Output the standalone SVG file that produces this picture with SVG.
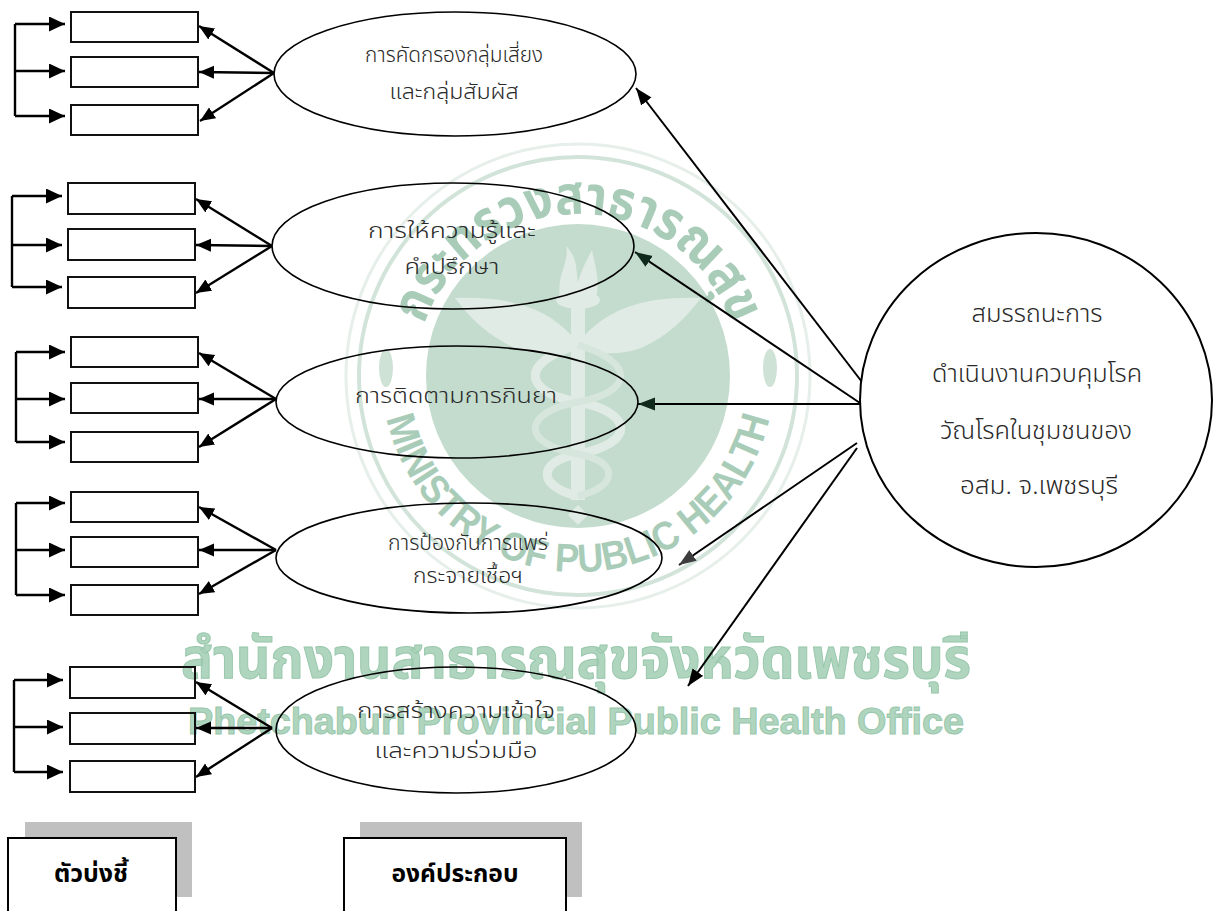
<svg xmlns="http://www.w3.org/2000/svg" width="1213" height="911" viewBox="0 0 1213 911">
<style>
.box{fill:none;stroke:#111;stroke-width:2}
.ell{fill:none;stroke:#000;stroke-width:1.6}
.br{fill:none;stroke:#000;stroke-width:2.4}
.ea{fill:none;stroke:#000;stroke-width:2.4}
.ra{fill:none;stroke:#000;stroke-width:2}
.th{font-family:'Noto Sans Thai','Noto Sans Thai UI','Noto Sans','DejaVu Sans',sans-serif;font-size:21px;font-weight:300;fill:#2a2a2a;text-anchor:middle}
.ct{font-family:'Noto Sans Thai','Noto Sans Thai UI','Noto Sans','DejaVu Sans',sans-serif;font-size:25px;font-weight:300;fill:#2a2a2a;text-anchor:middle}
.lb{font-family:'Noto Sans Thai','Noto Sans Thai UI','Noto Sans','DejaVu Sans',sans-serif;font-size:24px;font-weight:bold;fill:#000;text-anchor:middle}
.wm{fill:#a9ccb8}
.wmt{font-family:'Noto Sans Thai','Noto Sans Thai UI','Noto Sans','DejaVu Sans',sans-serif;font-weight:bold;fill:#b0d5bf;stroke:#98c7ab;stroke-width:1;text-anchor:middle}
.wme{font-family:'Liberation Sans','Arial',sans-serif;font-weight:bold;fill:#b0d5bf;stroke:#98c7ab;stroke-width:1;text-anchor:middle}
.shadow{fill:#c0c0c0}
.lab{fill:#fff;stroke:#000;stroke-width:2}
</style>
<defs>
<marker id="ah" markerUnits="userSpaceOnUse" markerWidth="17" markerHeight="16" refX="16" refY="7.5" orient="auto"><path d="M0,0 L16,7.5 L0,15 z" fill="#000"/></marker>
<marker id="ah2" markerUnits="userSpaceOnUse" markerWidth="16" markerHeight="14" refX="15" refY="6.5" orient="auto"><path d="M0,0 L15,6.5 L0,13 z" fill="#000"/></marker>
<marker id="ah3" markerUnits="userSpaceOnUse" markerWidth="18" markerHeight="14" refX="17" refY="6.5" orient="auto"><path d="M0,0 L17,6.5 L0,13 z" fill="#000"/></marker>
<marker id="ah3g" markerUnits="userSpaceOnUse" markerWidth="18" markerHeight="14" refX="17" refY="6.5" orient="auto"><path d="M0,0 L17,6.5 L0,13 z" fill="#0f2a1d"/></marker>
<marker id="ah3d" markerUnits="userSpaceOnUse" markerWidth="18" markerHeight="14" refX="17" refY="6.5" orient="auto"><path d="M0,0 L17,6.5 L0,13 z" fill="#3d3d3d"/></marker>
<path id="arcTop" d="M416,376 A162,162 0 0 1 740,376"/>
<path id="arcBot" d="M382,376 A196,196 0 0 0 774,376"/>
</defs>

<g id="watermark">
<circle cx="578" cy="376" r="232" fill="none" stroke="#e6efe9" stroke-width="3"/>
<circle cx="578" cy="376" r="219" fill="none" stroke="#d2e4d9" stroke-width="4"/>
<circle cx="578" cy="376" r="152" fill="#c4dcce"/>
<text class="wm" style="font-family:'Noto Sans Thai','Noto Sans','DejaVu Sans',sans-serif;font-weight:bold;font-size:54px;text-anchor:middle"><textPath href="#arcTop" startOffset="50%" textLength="404" lengthAdjust="spacingAndGlyphs">กระทรวงสาธารณสุข</textPath></text>
<text class="wm" style="font-family:'Liberation Sans',Arial,sans-serif;font-weight:bold;font-size:40px;text-anchor:middle"><textPath href="#arcBot" startOffset="50%" textLength="530" lengthAdjust="spacingAndGlyphs">MINISTRY OF PUBLIC HEALTH</textPath></text>
<g fill="#dfebe4">
<rect x="571" y="300" width="14" height="200"/>
<ellipse cx="578" cy="300" rx="22" ry="9"/>
<path d="M560,298 C556,275 570,262 566,246 C578,258 576,270 578,282 C582,268 588,258 592,250 C596,268 600,282 596,298 Z"/>
<path d="M572,336 C545,306 505,296 455,298 C470,318 488,336 515,348 C538,356 558,354 572,348 Z"/>
<path d="M584,336 C611,306 651,296 701,298 C686,318 668,336 641,348 C618,356 598,354 584,348 Z"/>
<path d="M578,505 l-10,10 l10,10 l10,-10 Z"/>
</g>
<path d="M578,345 C520,362 522,392 578,402 C634,412 636,444 578,454 C534,462 540,488 578,496" fill="none" stroke="#dfebe4" stroke-width="9"/>
<path d="M578,345 C636,362 634,392 578,402 C522,412 520,444 578,454 C622,462 616,488 578,496" fill="none" stroke="#d6e6dc" stroke-width="7"/>
<ellipse cx="386" cy="368" rx="7" ry="19" fill="#cfe2d6"/>
<ellipse cx="770" cy="368" rx="7" ry="19" fill="#cfe2d6"/>
<text class="wmt" x="576" y="678" font-size="56" textLength="790" lengthAdjust="spacingAndGlyphs">สำนักงานสาธารณสุขจังหวัดเพชรบุรี</text>
<text class="wme" x="576" y="734" font-size="37" textLength="776" lengthAdjust="spacingAndGlyphs">Phetchaburi Provincial Public Health Office</text>
</g>

<g id="connectors">
<path class="br" d="M15,24 V116"/>
<path class="br" d="M15,24 H65" marker-end="url(#ah)"/>
<path class="br" d="M15,71 H65" marker-end="url(#ah)"/>
<path class="br" d="M15,116 H65" marker-end="url(#ah)"/>
<path class="br" d="M12,196 V287"/>
<path class="br" d="M12,196 H62" marker-end="url(#ah)"/>
<path class="br" d="M12,245 H62" marker-end="url(#ah)"/>
<path class="br" d="M12,287 H62" marker-end="url(#ah)"/>
<path class="br" d="M16,352 V442"/>
<path class="br" d="M16,352 H65" marker-end="url(#ah)"/>
<path class="br" d="M16,399 H65" marker-end="url(#ah)"/>
<path class="br" d="M16,442 H65" marker-end="url(#ah)"/>
<path class="br" d="M16,503 V595"/>
<path class="br" d="M16,503 H65" marker-end="url(#ah)"/>
<path class="br" d="M16,550 H65" marker-end="url(#ah)"/>
<path class="br" d="M16,595 H65" marker-end="url(#ah)"/>
<path class="br" d="M14,680 V772"/>
<path class="br" d="M14,680 H63" marker-end="url(#ah)"/>
<path class="br" d="M14,727 H63" marker-end="url(#ah)"/>
<path class="br" d="M14,772 H63" marker-end="url(#ah)"/>

<path class="ea" d="M274,73 L199,26" marker-end="url(#ah2)"/>
<path class="ea" d="M274,73 L199,72" marker-end="url(#ah2)"/>
<path class="ea" d="M274,73 L200,121" marker-end="url(#ah2)"/>
<path class="ea" d="M272,246 L196,199" marker-end="url(#ah2)"/>
<path class="ea" d="M272,246 L196,245" marker-end="url(#ah2)"/>
<path class="ea" d="M272,246 L196,293" marker-end="url(#ah2)"/>
<path class="ea" d="M276,399 L199,353" marker-end="url(#ah2)"/>
<path class="ea" d="M276,399 L199,399" marker-end="url(#ah2)"/>
<path class="ea" d="M276,399 L199,447" marker-end="url(#ah2)"/>
<path class="ea" d="M276,550 L199,507" marker-end="url(#ah2)"/>
<path class="ea" d="M276,550 L199,550" marker-end="url(#ah2)"/>
<path class="ea" d="M276,550 L199,594" marker-end="url(#ah2)"/>
<path class="ea" d="M272,728 L196,682" marker-end="url(#ah2)"/>
<path class="ea" d="M272,728 L196,728" marker-end="url(#ah2)"/>
<path class="ea" d="M272,728 L196,777" marker-end="url(#ah2)"/>

<path class="ra" d="M862,382 L636,88" marker-end="url(#ah3)"/>
<path class="ra" d="M860,403 L635,252" stroke="#1a2a22" marker-end="url(#ah3g)"/>
<path class="ra" d="M860,404 L638,404" stroke="#0f2a1d" marker-end="url(#ah3g)"/>
<path class="ra" d="M857,443 L679,565" stroke="#3d3d3d" marker-end="url(#ah3d)"/>
<path class="ra" d="M857,448 L688,686" marker-end="url(#ah3)"/>
</g>

<g id="ind1"><rect class="box" x="71" y="12" width="127" height="30"/><rect class="box" x="71" y="57" width="127" height="30"/><rect class="box" x="71" y="105" width="127" height="30"/></g>
<g id="ind2"><rect class="box" x="68" y="183" width="127" height="31"/><rect class="box" x="68" y="229" width="127" height="31"/><rect class="box" x="68" y="277" width="127" height="31"/></g>
<g id="ind3"><rect class="box" x="71" y="337" width="127" height="30"/><rect class="box" x="71" y="383" width="127" height="30"/><rect class="box" x="71" y="432" width="127" height="30"/></g>
<g id="ind4"><rect class="box" x="71" y="492" width="127" height="30"/><rect class="box" x="71" y="537" width="127" height="30"/><rect class="box" x="71" y="585" width="127" height="30"/></g>
<g id="ind5"><rect class="box" x="70" y="667" width="125" height="31"/><rect class="box" x="70" y="713" width="125" height="31"/><rect class="box" x="70" y="761" width="125" height="31"/></g>

<g id="comp1"><ellipse class="ell" cx="455" cy="74" rx="181" ry="62"/>
<text class="th" x="454" y="62" textLength="178" lengthAdjust="spacingAndGlyphs">การคัดกรองกลุ่มเสี่ยง</text>
<text class="th" x="454" y="99" textLength="129" lengthAdjust="spacingAndGlyphs">และกลุ่มสัมผัส</text></g>
<g id="comp2"><ellipse class="ell" cx="453" cy="246" rx="181" ry="63"/>
<text class="th" x="452" y="238" textLength="168" lengthAdjust="spacingAndGlyphs">การให้ความรู้และ</text>
<text class="th" x="452" y="274" textLength="95" lengthAdjust="spacingAndGlyphs">คำปรึกษา</text></g>
<g id="comp3"><ellipse class="ell" cx="457" cy="402" rx="181" ry="56"/>
<text class="th" x="456" y="403" textLength="202" lengthAdjust="spacingAndGlyphs">การติดตามการกินยา</text></g>
<g id="comp4"><ellipse class="ell" cx="469" cy="558" rx="193" ry="55"/>
<text class="th" x="468" y="550" textLength="160" lengthAdjust="spacingAndGlyphs">การป้องกันการแพร่</text>
<text class="th" x="468" y="583" textLength="110" lengthAdjust="spacingAndGlyphs">กระจายเชื้อฯ</text></g>
<g id="comp5"><ellipse class="ell" cx="456" cy="730" rx="180" ry="63"/>
<text class="th" x="456" y="718" textLength="198" lengthAdjust="spacingAndGlyphs">การสร้างความเข้าใจ</text>
<text class="th" x="456" y="758" textLength="163" lengthAdjust="spacingAndGlyphs">และความร่วมมือ</text></g>

<g id="competency"><ellipse cx="1036" cy="400" rx="176" ry="167" fill="#fff" stroke="#000" stroke-width="2"/>
<text class="ct" x="1037" y="322" textLength="131" lengthAdjust="spacingAndGlyphs">สมรรถนะการ</text>
<text class="ct" x="1037" y="382" textLength="210" lengthAdjust="spacingAndGlyphs">ดำเนินงานควบคุมโรค</text>
<text class="ct" x="1036" y="439" textLength="192" lengthAdjust="spacingAndGlyphs">วัณโรคในชุมชนของ</text>
<text class="ct" x="1039" y="494" textLength="158" lengthAdjust="spacingAndGlyphs">อสม. จ.เพชรบุรี</text></g>

<g id="label-indicator"><rect class="shadow" x="25" y="822" width="167" height="75"/><rect class="lab" x="8" y="838" width="168" height="90"/>
<text class="lb" x="91" y="882" textLength="74" lengthAdjust="spacingAndGlyphs">ตัวบ่งชี้</text></g>
<g id="label-component"><rect class="shadow" x="360" y="822" width="222" height="75"/><rect class="lab" x="344" y="838" width="222" height="90"/>
<text class="lb" x="455" y="882" textLength="127" lengthAdjust="spacingAndGlyphs">องค์ประกอบ</text></g>
</svg>
